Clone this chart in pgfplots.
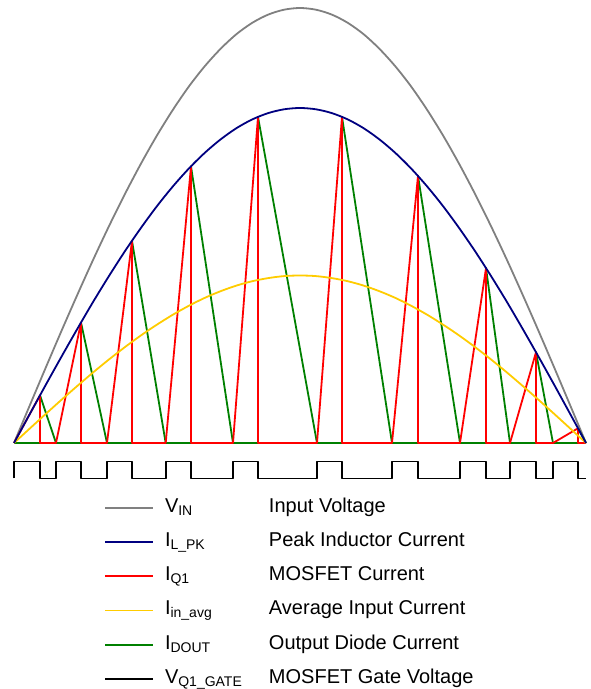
\documentclass[border=0pt]{standalone}
\usepackage{fontspec}
\setmainfont{Liberation Sans}
\usepackage{pgfplots}
\pgfplotsset{compat=1.18}

\definecolor{vin}{RGB}{128,128,128}
\definecolor{ilpk}{RGB}{0,0,128}
\definecolor{iq}{RGB}{255,0,0}
\definecolor{iavg}{RGB}{255,204,0}
\definecolor{idout}{RGB}{0,128,0}

\begin{document}
\begin{tikzpicture}
  \begin{axis}[
    width=590pt, height=689pt,
    scale only axis,
    xmin=0, xmax=590,
    ymin=-246, ymax=443,
    hide axis,
    clip=false,
    every axis plot/.append style={line width=1.8pt, line join=round},
    legend image code/.code={\draw[#1, line width=1.8pt] (0pt,0pt) -- (48pt,0pt);},
    legend cell align=left,
    legend style={
      at={(axis cs:104,-54.5)}, anchor=north west,
      draw=none, fill=none, inner sep=0pt,
      row sep=13.9pt, column sep=11pt,
      font=\fontsize{20}{23}\selectfont,
      nodes={inner sep=0pt, text height=14.5pt, text depth=5.8pt},
    },
    ]
    % legend images, in the order of the reference
    \addlegendimage{vin}
    \addlegendentry{\makebox[104pt][l]{V\textsubscript{IN}}Input Voltage}
    \addlegendimage{ilpk}
    \addlegendentry{\makebox[104pt][l]{I\textsubscript{L\_PK}}Peak Inductor Current}
    \addlegendimage{iq}
    \addlegendentry{\makebox[104pt][l]{I\textsubscript{Q1}}MOSFET Current}
    \addlegendimage{iavg}
    \addlegendentry{\makebox[104pt][l]{I\textsubscript{in\_avg}}Average Input Current}
    \addlegendimage{idout}
    \addlegendentry{\makebox[104pt][l]{I\textsubscript{DOUT}}Output Diode Current}
    \addlegendimage{black}
    \addlegendentry{\makebox[104pt][l]{V\textsubscript{Q1\_GATE}}MOSFET Gate Voltage}

    % input voltage (rectified half sine)
    \addplot[vin, smooth, forget plot] coordinates {
      (14,0) (29.9,37.9) (45.8,75.5) (61.7,112.6) (77.6,148.8) (93.4,183.8)
      (109.3,217.5) (125.2,249.5) (141.1,279.6) (157.0,307.6) (172.9,333.2)
      (188.8,356.4) (204.7,376.7) (220.6,394.2) (236.4,408.8) (252.3,420.2)
      (268.2,428.4) (284.1,433.3) (300.0,435.0) (315.9,433.3) (331.8,428.4)
      (347.7,420.2) (363.6,408.8) (379.4,394.2) (395.3,376.7) (411.2,356.4)
      (427.1,333.2) (443.0,307.6) (458.9,279.6) (474.8,249.5) (490.7,217.5)
      (506.6,183.8) (522.4,148.8) (538.3,112.6) (554.2,75.5) (570.1,37.9) (586,0)
    };

    % output diode current
    \addplot[idout, sharp plot, forget plot] coordinates {
      (14,0) (40,0) (40,47.7) (56,0) (81,0) (81,120.5) (107,0) (132,0)
      (132,202.2) (165.7,0) (191,0) (191,276.7) (233,0) (258,0) (258,326.1)
      (317,0) (342,0) (342,326.1) (392,0) (418,0) (418,267.1) (460,0) (486,0)
      (486,174.9) (510,0) (536,0) (536,90.8) (553,0) (578,0) (578,14.7) (586,0)
    };

    % MOSFET current
    \addplot[iq, sharp plot, forget plot] coordinates {
      (14,0) (40,47.7) (40,0) (56,0) (81,120.5) (81,0) (107,0) (132,202.2)
      (132,0) (165.7,0) (191,276.7) (191,0) (233,0) (258,326.1) (258,0)
      (317,0) (342,326.1) (342,0) (392,0) (418,267.1) (418,0) (460,0)
      (486,174.9) (486,0) (510,0) (536,90.8) (536,0) (553,0) (578,14.7)
      (578,0) (586,0)
    };

    % average input current
    \addplot[iavg, smooth, forget plot] coordinates {
      (14,0) (29.9,14.6) (45.8,29.1) (61.7,43.4) (77.6,57.3) (93.4,70.8)
      (109.3,83.8) (125.2,96.1) (141.1,107.7) (157.0,118.4) (172.9,128.3)
      (188.8,137.2) (204.7,145.1) (220.6,151.8) (236.4,157.4) (252.3,161.8)
      (268.2,164.9) (284.1,166.9) (300.0,167.5) (315.9,166.9) (331.8,164.9)
      (347.7,161.8) (363.6,157.4) (379.4,151.8) (395.3,145.1) (411.2,137.2)
      (427.1,128.3) (443.0,118.4) (458.9,107.7) (474.8,96.1) (490.7,83.8)
      (506.6,70.8) (522.4,57.3) (538.3,43.4) (554.2,29.1) (570.1,14.6) (586,0)
    };

    % peak inductor current envelope
    \addplot[ilpk, smooth, forget plot] coordinates {
      (14,0) (29.9,29.2) (45.8,58.2) (61.7,86.7) (77.6,114.6) (93.4,141.6)
      (109.3,167.5) (125.2,192.2) (141.1,215.3) (157.0,236.9) (172.9,256.6)
      (188.8,274.4) (204.7,290.1) (220.6,303.6) (236.4,314.8) (252.3,323.6)
      (268.2,329.9) (284.1,333.7) (300.0,335.0) (315.9,333.7) (331.8,329.9)
      (347.7,323.6) (363.6,314.8) (379.4,303.6) (395.3,290.1) (411.2,274.4)
      (427.1,256.6) (443.0,236.9) (458.9,215.3) (474.8,192.2) (490.7,167.5)
      (506.6,141.6) (522.4,114.6) (538.3,86.7) (554.2,58.2) (570.1,29.2) (586,0)
    };

    % gate drive
    \addplot[black, sharp plot, forget plot] coordinates {
      (14,-35.5) (14,-18.5) (40,-18.5) (40,-35.5) (56,-35.5) (56,-18.5)
      (81,-18.5) (81,-35.5) (107,-35.5) (107,-18.5) (132,-18.5) (132,-35.5)
      (165.7,-35.5) (165.7,-18.5) (191,-18.5) (191,-35.5) (233,-35.5)
      (233,-18.5) (258,-18.5) (258,-35.5) (317,-35.5) (317,-18.5) (342,-18.5)
      (342,-35.5) (392,-35.5) (392,-18.5) (418,-18.5) (418,-35.5) (460,-35.5)
      (460,-18.5) (486,-18.5) (486,-35.5) (510,-35.5) (510,-18.5) (536,-18.5)
      (536,-35.5) (553,-35.5) (553,-18.5) (578,-18.5) (578,-35.5) (586,-35.5)
    };
  \end{axis}
  \pgfresetboundingbox
  \path[use as bounding box] (current axis.south west) rectangle (current axis.north east);
\end{tikzpicture}
\end{document}
